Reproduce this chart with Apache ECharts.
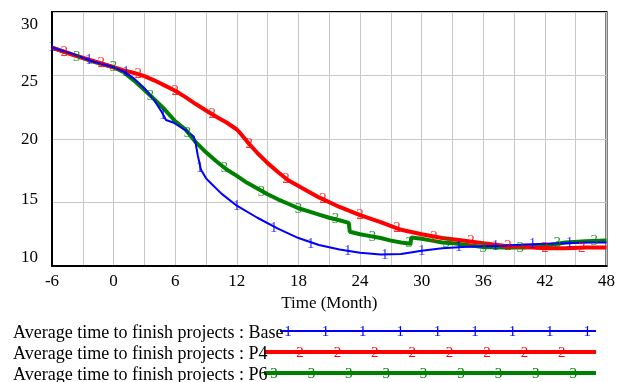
<!DOCTYPE html>
<html>
<head>
<meta charset="utf-8">
<script src="https://cdn.jsdelivr.net/npm/echarts@6/dist/echarts.min.js"></script>
<style>
html,body{margin:0;padding:0;background:#fff;}
#c{width:618px;height:382px;}
</style>
</head>
<body>
<div id="c"></div>
<script>
// ---- data ----
const seriesNames = [
  'Average time to finish projects : Base',
  'Average time to finish projects : P4',
  'Average time to finish projects : P6'
];
const markerDigits = ['1', '2', '3'];
const xTickLabels = [-6, 0, 6, 12, 18, 24, 30, 36, 42, 48];
const yTickLabels = [10, 15, 20, 25, 30];

const baseT = [-6,-4,-2,0,1,2,3,4,4.7,5.1,5.8,7,7.8,8,8.2,8.5,9,9.5,10.5,12,14,16,18,20,22,24,26,28,30,32,34,36,38,40,42,44,46,48];
const baseV = [27.2,26.7,26.1,25.65,25.3,24.75,24.0,23.0,22.1,21.5,21.3,20.7,20.2,19.6,18.7,17.6,16.9,16.5,15.7,14.75,13.8,12.95,12.2,11.65,11.3,11.05,10.9,10.95,11.2,11.4,11.5,11.55,11.6,11.7,11.75,11.8,11.85,11.85];

const p4T = [-6,-4,-2,0,1,2,3,4,5,6,7,8,9,10,11,12,12.5,13,14,15,16,17,18,19,20,22,24,26,28,30,32,34,36,38,40,42,44,46,48];
const p4V = [27.2,26.65,26.15,25.65,25.4,25.2,24.95,24.6,24.2,23.8,23.3,22.75,22.25,21.75,21.3,20.75,20.3,19.8,18.9,18.1,17.4,16.75,16.3,15.85,15.4,14.65,14.0,13.45,12.85,12.5,12.2,12.0,11.8,11.6,11.5,11.4,11.4,11.45,11.45];

const p6T = [-6,-4,-2,0,1,2,3,4,5,6,7,8,9,10,11,12,13,14,15,16,17,18,19,20,21,22,22.9,23,24,25,26,27,28,28.9,29,30,31,32,33,34,36,38,40,42,44,46,48];
const p6V = [27.2,26.65,26.1,25.65,25.25,24.6,23.85,23.1,22.3,21.4,20.75,19.75,18.95,18.25,17.6,17.1,16.55,16.1,15.65,15.25,14.9,14.55,14.3,14.05,13.8,13.6,13.4,12.7,12.5,12.35,12.2,12.0,11.85,11.75,12.25,12.15,12.0,11.85,11.8,11.7,11.5,11.45,11.45,11.6,11.85,11.95,12.0];

const baseMarkT = [-6,-2.4,1.2,4.8,8.4,12,15.6,19.2,22.8,26.4,30,33.6,37.2,40.8,44.4];
const baseMarkV = [27.2,26.2,25.25,21.9,17.7,14.75,13.0,11.75,11.2,10.9,11.2,11.5,11.6,11.7,11.8];
const p4MarkT = [-4.8,-1.2,2.4,6,9.6,13.2,16.8,20.4,24,27.6,31.2,34.8,38.4,42,45.6];
const p4MarkV = [26.85,25.95,25.1,23.8,21.95,19.6,16.85,15.25,14.0,12.95,12.3,11.95,11.6,11.4,11.45];
const p6MarkT = [-3.6,0,3.6,7.2,10.8,14.4,18,21.6,25.2,28.8,32.4,36,39.6,43.2,46.8];
const p6MarkV = [26.45,25.65,23.4,20.5,17.75,15.85,14.5,13.7,12.3,11.8,11.8,11.45,11.45,11.8,11.95];

const colors = ['#0000ff', '#ff0000', '#008000'];
const widths = [2, 4, 4];

// ---- build ----
const zip = (t, v) => t.map((x, i) => [x, v[i]]);
const lines = [zip(baseT, baseV), zip(p4T, p4V), zip(p6T, p6V)];
const marks = [zip(baseMarkT, baseMarkV), zip(p4MarkT, p4MarkV), zip(p6MarkT, p6MarkV)];
const FONT = '"Liberation Serif", "Times New Roman", serif';

const drawOrder = [2, 1, 0]; // green under red under blue
const series = [];
drawOrder.forEach(i => {
  series.push({
    name: seriesNames[i], type: 'line', data: lines[i],
    showSymbol: false, symbol: 'none', smooth: false,
    lineStyle: { color: colors[i], width: widths[i] },
    itemStyle: { color: colors[i] },
    animation: false, z: 2 + (2 - i)
  });
});
drawOrder.forEach(i => {
  series.push({
    name: seriesNames[i] + ' markers', type: 'scatter', data: marks[i],
    symbol: 'circle', symbolSize: 1,
    itemStyle: { color: 'rgba(0,0,0,0)' },
    label: { show: true, position: 'inside', formatter: markerDigits[i],
      color: colors[i], fontFamily: FONT, fontSize: 15 },
    animation: false, z: 6 + (2 - i), silent: true
  });
});

const yRich = {};
const yPad = { 30: [26, 0, 0, 0], 25: [13, 0, 0, 0], 20: [2, 0, 0, 0], 15: [0, 0, 6, 0], 10: [0, 0, 17, 0] };
yTickLabels.forEach(v => {
  yRich['y' + v] = { fontFamily: FONT, fontSize: 17, color: '#000', padding: yPad[v] || [0,0,0,0] };
});

// legend drawn as graphic: text + line + digits
const legendRowsY = [331, 352, 373];
const legendLineStart = [280, 264, 264];
const legendLineEnd = 596;
const legendFirstMarker = [288, 300, 274];
const legendMarkerCount = [9, 8, 9];
const legendMarkerStep = 37.4;
const graphic = [];
seriesNames.forEach((name, i) => {
  const y = legendRowsY[i];
  graphic.push({ type: 'line', z: 10,
    shape: { x1: legendLineStart[i], y1: y, x2: legendLineEnd, y2: y },
    style: { stroke: colors[i], lineWidth: widths[i] } });
  graphic.push({ type: 'text', z: 11, x: 13, y: y + 2,
    style: { text: name, fill: '#000', font: '18px ' + FONT, textVerticalAlign: 'middle', textAlign: 'left' } });
  for (let k = 0; k < legendMarkerCount[i]; k++) {
    graphic.push({ type: 'text', z: 12, x: legendFirstMarker[i] + k * legendMarkerStep, y: y + 1,
      style: { text: markerDigits[i], fill: colors[i], font: '15px ' + FONT, textAlign: 'center', textVerticalAlign: 'middle' } });
  }
});

const chart = echarts.init(document.getElementById('c'), null, { renderer: 'canvas' });
chart.setOption({
  animation: false,
  backgroundColor: '#fff',
  grid: { left: 52, top: 12, width: 554.5, height: 254, show: true, borderColor: '#000', borderWidth: 2, backgroundColor: 'transparent' },
  xAxis: {
    type: 'value', min: -6, max: 48, interval: 6,
    name: 'Time (Month)', nameLocation: 'middle', nameGap: 29,
    nameTextStyle: { fontFamily: FONT, fontSize: 17, color: '#000' },
    axisLine: { show: true, onZero: false, lineStyle: { color: '#000', width: 2 } },
    axisTick: { show: false },
    axisLabel: { fontFamily: FONT, fontSize: 17, color: '#000', margin: 7,
      formatter: v => xTickLabels.indexOf(v) >= 0 ? String(v) : '' },
    splitLine: { show: true, lineStyle: { color: '#c8c8c8', width: 1 } },
    minorTick: { show: false, splitNumber: 2 },
    minorSplitLine: { show: true, lineStyle: { color: '#c8c8c8', width: 1 } }
  },
  yAxis: {
    type: 'value', min: 10, max: 30, interval: 5,
    axisLine: { show: true, onZero: false, lineStyle: { color: '#000', width: 2 } },
    axisTick: { show: false },
    axisLabel: { fontFamily: FONT, fontSize: 17, color: '#000', margin: 14,
      showMinLabel: true, showMaxLabel: true,
      formatter: v => '{y' + v + '|' + v + '}', rich: yRich },
    splitLine: { show: true, lineStyle: { color: '#c8c8c8', width: 1 } }
  },
  series: series,
  graphic: graphic
});
</script>
</body>
</html>
